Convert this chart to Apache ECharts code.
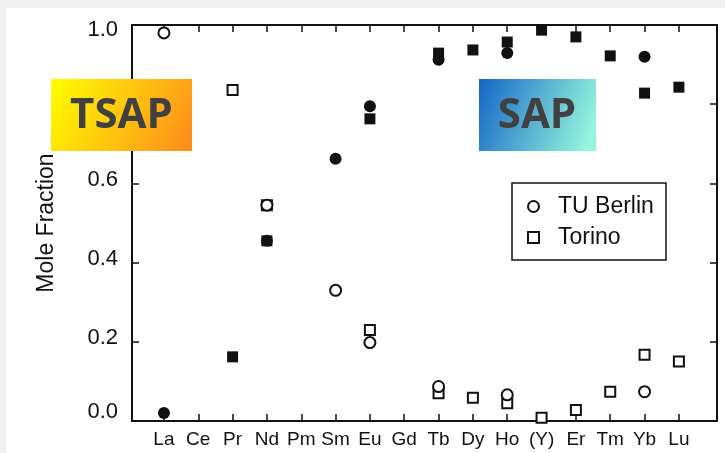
<!DOCTYPE html>
<html>
<head>
<meta charset="utf-8">
<script src="https://cdn.jsdelivr.net/npm/echarts@6/dist/echarts.min.js"></script>
<style>
  html, body { margin: 0; padding: 0; background: #f0f0f0; width: 725px; height: 453px; overflow: hidden; }
  #chart { position: absolute; left: 6px; top: 8px; width: 719px; height: 445px; background: #ffffff; }
</style>
</head>
<body>
<div id="chart"></div>
<script>
// Lanthanide elements (plus yttrium) along the x axis
const elements = ['La', 'Ce', 'Pr', 'Nd', 'Pm', 'Sm', 'Eu', 'Gd', 'Tb', 'Dy', 'Ho', '(Y)', 'Er', 'Tm', 'Yb', 'Lu'];

// Mole fractions, open symbols (TU Berlin circles, Torino squares)
const berlinOpen   = [0.98, null, null, 0.545, null, 0.33, 0.198, null, 0.087, null, 0.066, null, null, null, 0.074, null];
const torinoOpen   = [null, null, 0.836, 0.545, null, null, 0.23, null, 0.07, 0.059, 0.045, 0.008, 0.028, 0.074, 0.167, 0.15];

// Mole fractions, filled symbols (complementary phase)
const berlinFilled = [0.02, null, null, 0.455, null, 0.662, 0.795, null, 0.912, null, 0.929, null, null, null, 0.92, null];
const torinoFilled = [null, null, 0.162, 0.455, null, null, 0.763, null, 0.929, 0.937, 0.957, 0.987, 0.97, 0.922, 0.828, 0.843];

const toPoints = arr => arr.map((v, i) => v == null ? null : [i, v]).filter(p => p);
const positions = elements.map((_, i) => i);

const chart = echarts.init(document.getElementById('chart'), null, { renderer: 'canvas' });

const axisFont = 'Liberation Sans, Arial, sans-serif';
const ink = '#111111';

const openStyle = { color: '#ffffff', borderColor: ink, borderWidth: 2, opacity: 1 };
const fillStyle = { color: ink, borderColor: ink, borderWidth: 0, opacity: 1 };

const frameLine = { show: true, onZero: false, lineStyle: { color: ink, width: 2 } };
const innerTick = { show: true, inside: true, length: 7, lineStyle: { color: ink, width: 1.5 } };

// y labels sit slightly above their ticks; the end labels are pulled inward
const yLabel = v => {
  const s = v.toFixed(1);
  if (v >= 0.999) return '{top|' + s + '}';
  if (v <= 0.001) return '{bot|' + s + '}';
  return '{mid|' + s + '}';
};
const yRich = {
  top: { fontFamily: axisFont, fontSize: 22, color: ink, padding: [10, 0, 0, 0] },
  mid: { fontFamily: axisFont, fontSize: 22, color: ink, padding: [0, 0, 7, 0] },
  bot: { fontFamily: axisFont, fontSize: 22, color: ink, padding: [0, 0, 18, 0] }
};

const option = {
  animation: false,
  grid: { left: 126, right: 8, top: 17, bottom: 32 },
  xAxis: [
    {
      type: 'value', position: 'bottom', min: -0.93, max: 16.11,
      axisLine: frameLine,
      axisTick: Object.assign({ customValues: positions }, innerTick),
      axisLabel: {
        show: true, customValues: positions, margin: 9,
        formatter: v => elements[Math.round(v)],
        fontFamily: axisFont, fontSize: 19, color: ink
      },
      splitLine: { show: false }
    },
    {
      type: 'value', position: 'top', min: -0.93, max: 16.11,
      axisLine: frameLine,
      axisTick: Object.assign({ customValues: positions }, innerTick),
      axisLabel: { show: false },
      splitLine: { show: false }
    }
  ],
  yAxis: [
    {
      type: 'value', position: 'left', min: 0, max: 1, interval: 0.2,
      name: 'Mole Fraction', nameLocation: 'middle', nameGap: 74, nameRotate: 90,
      nameTextStyle: { fontFamily: axisFont, fontSize: 23, color: ink },
      axisLine: frameLine,
      axisTick: innerTick,
      axisLabel: { show: true, margin: 14, formatter: yLabel, rich: yRich },
      splitLine: { show: false }
    },
    {
      type: 'value', position: 'right', min: 0, max: 1, interval: 0.2,
      axisLine: frameLine,
      axisTick: innerTick,
      axisLabel: { show: false },
      splitLine: { show: false }
    }
  ],
  legend: {
    data: [{ name: 'TU Berlin' }, { name: 'Torino' }],
    orient: 'vertical',
    left: 521, top: 187,
    padding: 0,
    itemWidth: 11, itemHeight: 11, itemGap: 8,
    textStyle: { fontFamily: axisFont, fontSize: 23, color: ink, lineHeight: 23, padding: [0, 0, 0, 14] }
  },
  series: [
    { name: 'TU Berlin filled', type: 'scatter', symbol: 'circle', symbolSize: 12,
      data: toPoints(berlinFilled), itemStyle: fillStyle },
    { name: 'Torino filled', type: 'scatter', symbol: 'rect', symbolSize: 11,
      data: toPoints(torinoFilled), itemStyle: fillStyle },
    { name: 'Torino', type: 'scatter', symbol: 'rect', symbolSize: 10,
      data: toPoints(torinoOpen), itemStyle: openStyle },
    { name: 'TU Berlin', type: 'scatter', symbol: 'circle', symbolSize: 11,
      data: toPoints(berlinOpen), itemStyle: openStyle }
  ],
  graphic: [
    { type: 'rect', z: 50, shape: { x: 506, y: 175, width: 154, height: 77 },
      style: { fill: 'none', stroke: ink, lineWidth: 1.5 } },
    { type: 'rect', z: 100, shape: { x: 45, y: 71, width: 141, height: 72 },
      style: { fill: new echarts.graphic.LinearGradient(0, 0, 1, 1, [
        { offset: 0, color: '#ffff00' }, { offset: 1, color: '#ff8a1c' }]) } },
    { type: 'text', z: 101, x: 115.5, y: 108,
      style: { text: 'TSAP', fontFamily: 'Open Sans, sans-serif', fontWeight: 'bold',
        fontSize: 42, fill: '#404040', align: 'center', verticalAlign: 'middle' } },
    { type: 'rect', z: 100, shape: { x: 473, y: 71, width: 117, height: 72 },
      style: { fill: new echarts.graphic.LinearGradient(0, 0, 1, 0.6, [
        { offset: 0, color: '#1566c6' }, { offset: 1, color: '#96f5dc' }]) } },
    { type: 'text', z: 101, x: 531, y: 108,
      style: { text: 'SAP', fontFamily: 'Open Sans, sans-serif', fontWeight: 'bold',
        fontSize: 42, fill: '#404040', align: 'center', verticalAlign: 'middle' } }
  ]
};

chart.setOption(option);
</script>
</body>
</html>
